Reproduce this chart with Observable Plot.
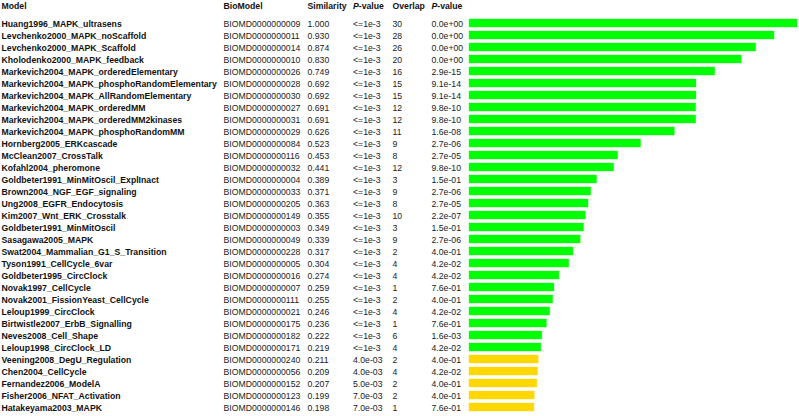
<!DOCTYPE html>
<html>
<head>
<meta charset="utf-8">
<script src="https://cdn.jsdelivr.net/npm/d3@7"></script>
<script src="https://cdn.jsdelivr.net/npm/@observablehq/plot@0.6"></script>
<style>
  html, body { margin: 0; padding: 0; background: #fff; }
  svg { display: block; }
</style>
</head>
<body>
<div id="chart"></div>
<script>
const models = [
  "Huang1996_MAPK_ultrasens",
  "Levchenko2000_MAPK_noScaffold",
  "Levchenko2000_MAPK_Scaffold",
  "Kholodenko2000_MAPK_feedback",
  "Markevich2004_MAPK_orderedElementary",
  "Markevich2004_MAPK_phosphoRandomElementary",
  "Markevich2004_MAPK_AllRandomElementary",
  "Markevich2004_MAPK_orderedMM",
  "Markevich2004_MAPK_orderedMM2kinases",
  "Markevich2004_MAPK_phosphoRandomMM",
  "Hornberg2005_ERKcascade",
  "McClean2007_CrossTalk",
  "Kofahl2004_pheromone",
  "Goldbeter1991_MinMitOscil_ExplInact",
  "Brown2004_NGF_EGF_signaling",
  "Ung2008_EGFR_Endocytosis",
  "Kim2007_Wnt_ERK_Crosstalk",
  "Goldbeter1991_MinMitOscil",
  "Sasagawa2005_MAPK",
  "Swat2004_Mammalian_G1_S_Transition",
  "Tyson1991_CellCycle_6var",
  "Goldbeter1995_CircClock",
  "Novak1997_CellCycle",
  "Novak2001_FissionYeast_CellCycle",
  "Leloup1999_CircClock",
  "Birtwistle2007_ErbB_Signalling",
  "Neves2008_Cell_Shape",
  "Leloup1998_CircClock_LD",
  "Veening2008_DegU_Regulation",
  "Chen2004_CellCycle",
  "Fernandez2006_ModelA",
  "Fisher2006_NFAT_Activation",
  "Hatakeyama2003_MAPK"
];
const bioModels = [
  "BIOMD0000000009","BIOMD0000000011","BIOMD0000000014","BIOMD0000000010",
  "BIOMD0000000026","BIOMD0000000028","BIOMD0000000030","BIOMD0000000027",
  "BIOMD0000000031","BIOMD0000000029","BIOMD0000000084","BIOMD0000000116",
  "BIOMD0000000032","BIOMD0000000004","BIOMD0000000033","BIOMD0000000205",
  "BIOMD0000000149","BIOMD0000000003","BIOMD0000000049","BIOMD0000000228",
  "BIOMD0000000005","BIOMD0000000016","BIOMD0000000007","BIOMD0000000111",
  "BIOMD0000000021","BIOMD0000000175","BIOMD0000000182","BIOMD0000000171",
  "BIOMD0000000240","BIOMD0000000056","BIOMD0000000152","BIOMD0000000123",
  "BIOMD0000000146"
];
const similarity = [
  1.000, 0.930, 0.874, 0.830, 0.749, 0.692, 0.692, 0.691, 0.691, 0.626,
  0.523, 0.453, 0.441, 0.389, 0.371, 0.363, 0.355, 0.349, 0.339, 0.317,
  0.304, 0.274, 0.259, 0.255, 0.246, 0.236, 0.222, 0.219, 0.211, 0.209,
  0.207, 0.199, 0.198
];
const simPValue = [
  "<=1e-3","<=1e-3","<=1e-3","<=1e-3","<=1e-3","<=1e-3","<=1e-3","<=1e-3",
  "<=1e-3","<=1e-3","<=1e-3","<=1e-3","<=1e-3","<=1e-3","<=1e-3","<=1e-3",
  "<=1e-3","<=1e-3","<=1e-3","<=1e-3","<=1e-3","<=1e-3","<=1e-3","<=1e-3",
  "<=1e-3","<=1e-3","<=1e-3","<=1e-3","4.0e-03","4.0e-03","5.0e-03","7.0e-03",
  "7.0e-03"
];
const overlap = [
  30, 28, 26, 20, 16, 15, 15, 12, 12, 11, 9, 8, 12, 3, 9, 8, 10, 3, 9, 2,
  4, 4, 1, 2, 4, 1, 6, 4, 2, 4, 2, 2, 1
];
const overlapPValue = [
  "0.0e+00","0.0e+00","0.0e+00","0.0e+00","2.9e-15","9.1e-14","9.1e-14","9.8e-10",
  "9.8e-10","1.6e-08","2.7e-06","2.7e-05","9.8e-10","1.5e-01","2.7e-06","2.7e-05",
  "2.2e-07","1.5e-01","2.7e-06","4.0e-01","4.2e-02","4.2e-02","7.6e-01","4.0e-01",
  "4.2e-02","7.6e-01","1.6e-03","4.2e-02","4.0e-01","4.2e-02","4.0e-01","4.0e-01",
  "7.6e-01"
];
const headerLabels = ["Model", "BioModel", "Similarity", "P", "-value", "Overlap", "P", "-value"];

const rows = models.map((m, i) => ({
  model: m,
  bio: bioModels[i],
  sim: similarity[i],
  simText: similarity[i].toFixed(3),
  p1: simPValue[i],
  overlap: overlap[i],
  p2: overlapPValue[i],
  signif: simPValue[i] === "<=1e-3" ? "significant" : "not significant"
}));

const font = "'Liberation Sans', Arial, sans-serif";
const FS = 8.7;
const LEFT = 469;

const colText = (field, colX, extra = {}) => Plot.text(rows, {
  y: "model", text: field, frameAnchor: "left", textAnchor: "start",
  dx: colX - LEFT, dy: 0.7, fill: "#222", fontSize: FS, ...extra
});
const header = (label, colX, extra = {}) => Plot.text([label], {
  text: d => d, frameAnchor: "top-left", textAnchor: "start", lineAnchor: "middle",
  dx: colX - LEFT, dy: -8.5, fill: "#111", fontSize: FS, fontWeight: "bold", ...extra
});

const chart = Plot.plot({
  width: 799,
  height: 416,
  marginLeft: LEFT,
  marginRight: 2,
  marginTop: 14,
  marginBottom: 0,
  style: {fontFamily: font, fontSize: FS + "px", background: "#fff"},
  x: {domain: [0, 1], axis: null},
  y: {domain: models, axis: null, paddingInner: 0.32, paddingOuter: 0.16},
  color: {domain: ["significant", "not significant"], range: ["#00ff00", "#ffd700"]},
  marks: [
    Plot.barX(rows, {
      y: "model", x: "sim", fill: "signif",
      stroke: "signif", strokeOpacity: 0.35, strokeWidth: 1
    }),
    colText("model", 1, {fontWeight: "bold", fill: "#111"}),
    colText("bio", 223),
    colText("simText", 307),
    colText("p1", 352.5),
    colText("overlap", 392),
    colText("p2", 431),
    header(headerLabels[0], 1),
    header(headerLabels[1], 223),
    header(headerLabels[2], 307),
    header(headerLabels[3], 352.5, {fontStyle: "italic"}),
    header(headerLabels[4], 358.3),
    header(headerLabels[5], 392),
    header(headerLabels[6], 431, {fontStyle: "italic"}),
    header(headerLabels[7], 436.8)
  ]
});

document.getElementById("chart").appendChild(chart);
</script>
</body>
</html>
